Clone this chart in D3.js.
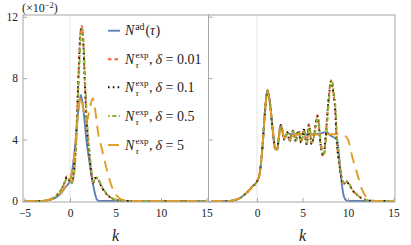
<!DOCTYPE html>
<html>
<head>
<meta charset="utf-8">
<script src="https://cdn.jsdelivr.net/npm/d3@7"></script>
<style>
  body { margin: 0; background: #fff; }
  svg { display: block; }
  svg text { font-family: "Liberation Serif", "DejaVu Serif", "Times New Roman", serif !important; }
</style>
</head>
<body>
<div id="chart"></div>
<script>
// ---- data (values in units of 10^-2) ----
var kTicksLeft = [-5, 0, 5, 10, 15],
    kTicksRight = [0, 5, 10, 15],
    yTicks = [0, 4, 8, 12];

var legendLabels = ["ad", "0.01", "0.1", "0.5", "5"];

// left panel
var leftAd = [[-5,0],[-3,0],[-2.5,0.03],[-2,0.1],[-1.5,0.25],[-1,0.5],[-0.5,0.9],[0,1.3],[0.3,2.2],[0.6,3.8],[0.9,5.8],[1.2,6.9],[1.5,5.8],[1.8,4.0],[2.1,2.7],[2.4,1.5],[2.7,0.6],[2.95,0.1],[3.2,0],[15,0]];
var leftExp001 = [[-5,0],[-3,0],[-2.5,0.05],[-2,0.15],[-1.5,0.35],[-1,0.7],[-0.6,1.2],[-0.35,1.6],[-0.1,1.35],[0.15,1.15],[0.45,2.0],[0.7,4.5],[0.95,8.5],[1.15,11.0],[1.3,11.4],[1.45,10.5],[1.65,7.5],[1.85,5.0],[2.1,3.2],[2.35,1.8],[2.55,1.2],[2.8,1.5],[3.05,1.45],[3.4,1.0],[3.8,0.6],[4.3,0.3],[4.8,0.12],[5.5,0.03],[6.5,0],[15,0]];
var leftExp01 = [[-5,0],[-3,0],[-2.5,0.05],[-2,0.15],[-1.5,0.35],[-1,0.7],[-0.6,1.2],[-0.35,1.55],[-0.1,1.35],[0.15,1.15],[0.45,2.0],[0.7,4.4],[0.95,8.4],[1.15,10.9],[1.3,11.3],[1.45,10.4],[1.65,7.4],[1.85,5.0],[2.1,3.2],[2.35,1.8],[2.55,1.2],[2.8,1.5],[3.05,1.45],[3.4,1.0],[3.8,0.6],[4.3,0.3],[4.8,0.12],[5.5,0.03],[6.5,0],[15,0]];
var leftExp05 = [[-5,0],[-3,0],[-2.5,0.05],[-2,0.15],[-1.5,0.35],[-1,0.7],[-0.6,1.15],[-0.3,1.5],[-0.05,1.35],[0.2,1.2],[0.5,2.0],[0.75,4.4],[1.0,8.3],[1.2,10.8],[1.35,11.2],[1.5,10.3],[1.7,7.4],[1.9,5.0],[2.15,3.2],[2.4,1.8],[2.6,1.25],[2.85,1.55],[3.1,1.45],[3.45,1.0],[3.85,0.6],[4.35,0.3],[4.85,0.12],[5.5,0.03],[6.5,0],[15,0]];
var leftExp5 = [[-5,0],[-3,0],[-2.5,0.05],[-2,0.12],[-1.5,0.3],[-1,0.55],[-0.5,0.95],[0,1.4],[0.3,2.2],[0.6,3.8],[0.9,5.8],[1.2,6.8],[1.55,5.7],[1.85,5.2],[2.2,6.1],[2.5,6.7],[2.75,6.0],[3.1,4.4],[3.5,3.4],[3.85,2.5],[4.2,1.7],[4.6,0.93],[5.0,0.45],[5.5,0.15],[6,0.03],[6.5,0],[15,0]];

// right panel
var rightAd = [[-5,0],[-3,0],[-2.5,0.05],[-2,0.15],[-1.5,0.35],[-1,0.62],[-0.5,0.95],[0,1.26],[0.3,1.8],[0.6,3.5],[0.9,6.0],[1.15,7.2],[1.4,6.5],[1.7,4.8],[2.0,3.4],[2.2,3.35],[2.6,4.95],[3.0,4.1],[3.4,4.4],[4.0,4.35],[5.0,4.35],[6.0,4.35],[7.0,4.4],[7.65,4.5],[8.0,4.3],[8.4,4.15],[8.8,4.0],[9.05,2.7],[9.3,1.2],[9.55,0.3],[9.8,0.05],[10.1,0],[15,0]];
var rightExp001 = [[-5,0],[-3,0],[-2.5,0.05],[-2,0.15],[-1.5,0.35],[-1,0.62],[-0.5,0.95],[0,1.26],[0.3,1.8],[0.6,3.5],[0.9,6.0],[1.15,7.2],[1.4,6.5],[1.7,4.8],[2.0,3.4],[2.2,3.35],[2.6,4.95],[3.0,4.0],[3.3,4.5],[3.6,3.9],[3.95,4.6],[4.25,3.9],[4.55,4.6],[4.85,3.8],[5.15,4.7],[5.45,3.7],[5.7,5.0],[6.0,3.7],[6.3,4.4],[6.65,5.6],[7.0,3.6],[7.3,2.9],[7.55,4.2],[7.85,6.6],[8.15,7.85],[8.4,7.0],[8.6,5.9],[8.75,4.0],[9.0,2.6],[9.25,1.6],[9.5,1.1],[9.8,1.25],[10.1,1.1],[10.5,0.7],[11.0,0.4],[11.5,0.18],[12.0,0.07],[12.5,0.02],[13,0],[15,0]];
var rightExp01 = [[-5,0],[-3,0],[-2.5,0.05],[-2,0.15],[-1.5,0.35],[-1,0.62],[-0.5,0.95],[0,1.26],[0.3,1.8],[0.6,3.5],[0.9,6.0],[1.15,7.2],[1.4,6.5],[1.7,4.8],[2.0,3.4],[2.2,3.35],[2.6,4.95],[3.0,4.0],[3.3,4.5],[3.6,3.9],[3.95,4.55],[4.25,3.9],[4.55,4.6],[4.85,3.8],[5.15,4.65],[5.45,3.7],[5.7,4.95],[6.0,3.7],[6.3,4.4],[6.65,5.5],[7.0,3.6],[7.3,2.95],[7.55,4.2],[7.85,6.5],[8.15,7.8],[8.4,7.0],[8.6,5.9],[8.75,4.0],[9.0,2.6],[9.25,1.6],[9.5,1.1],[9.8,1.25],[10.1,1.1],[10.5,0.7],[11.0,0.4],[11.5,0.18],[12.0,0.07],[12.5,0.02],[13,0],[15,0]];
var rightExp05 = [[-5,0],[-3,0],[-2.5,0.05],[-2,0.15],[-1.5,0.35],[-1,0.62],[-0.5,0.95],[0,1.26],[0.3,1.8],[0.6,3.5],[0.9,6.0],[1.15,7.2],[1.4,6.5],[1.7,4.8],[2.0,3.4],[2.2,3.35],[2.65,4.95],[3.05,4.1],[3.35,4.5],[3.65,3.95],[4.0,4.55],[4.3,3.95],[4.6,4.55],[4.9,3.9],[5.2,4.6],[5.5,3.8],[5.75,4.9],[6.05,3.8],[6.35,4.4],[6.7,5.4],[7.05,3.7],[7.35,3.0],[7.6,4.2],[7.9,6.5],[8.2,7.9],[8.45,7.1],[8.65,5.9],[8.8,4.1],[9.05,2.7],[9.3,1.7],[9.55,1.15],[9.85,1.3],[10.15,1.1],[10.55,0.7],[11.05,0.4],[11.55,0.18],[12.0,0.07],[12.5,0.02],[13,0],[15,0]];
var rightExp5 = [[-5,0],[-3,0],[-2.5,0.05],[-2,0.15],[-1.5,0.35],[-1,0.62],[-0.5,0.95],[0,1.26],[0.3,1.8],[0.6,3.5],[0.9,6.0],[1.15,7.2],[1.4,6.5],[1.7,4.8],[2.0,3.4],[2.2,3.35],[2.6,4.9],[3.0,4.1],[3.4,4.35],[4,4.3],[5,4.35],[6,4.3],[7,4.35],[8,4.35],[9,4.35],[9.5,4.3],[10,4.0],[10.5,2.8],[11,1.8],[11.5,0.8],[12,0.25],[12.5,0.05],[13,0],[15,0]];

// ---- styles ----
var styles = [
  {color: "#5E81B5", dash: null},
  {color: "#EB6235", dash: "3.5,3"},
  {color: "#111111", dash: "1.6,3.2"},
  {color: "#8FB032", dash: "1.6,2.6,4.2,2.6"},
  {color: "#E19C24", dash: "11,7"}
];

var W = 411, H = 245,
    frameTop = 15, frameBottom = 202;

var svg = d3.select("#chart").append("svg")
  .attr("width", W)
  .attr("height", H);

var yScale = d3.scaleLinear().domain([0, 12]).range([201, 16.7]);

var panels = [
  {x0: 23, x1: 208.5, xScale: d3.scaleLinear().domain([-5, 15]).range([24.5, 206.5]),
   ticks: kTicksLeft, curves: [leftAd, leftExp001, leftExp01, leftExp05, leftExp5], yLabels: true},
  {x0: 208.5, x1: 395, xScale: d3.scaleLinear().domain([-5, 15]).range([211.5, 393.5]),
   ticks: kTicksRight, curves: [rightAd, rightExp001, rightExp01, rightExp05, rightExp5], yLabels: false}
];

panels.forEach(function(p, pi) {
  var g = svg.append("g");

  // gridline at k = 0
  g.append("line")
    .attr("x1", p.xScale(0)).attr("x2", p.xScale(0))
    .attr("y1", frameTop).attr("y2", frameBottom)
    .attr("stroke", "#e4e4e4").attr("stroke-width", 1);

  svg.append("clipPath").attr("id", "clip" + pi)
    .append("rect")
    .attr("x", p.x0).attr("y", frameTop)
    .attr("width", p.x1 - p.x0).attr("height", frameBottom - frameTop);

  var line = d3.line()
    .x(function(d) { return p.xScale(d[0]); })
    .y(function(d) { return yScale(d[1]); })
    .curve(d3.curveMonotoneX);

  var plot = g.append("g").attr("clip-path", "url(#clip" + pi + ")");
  p.curves.forEach(function(c, i) {
    plot.append("path")
      .datum(c)
      .attr("d", line)
      .attr("fill", "none")
      .attr("stroke", styles[i].color)
      .attr("stroke-width", 1.9)
      .attr("stroke-dasharray", styles[i].dash);
  });

  // frame
  g.append("rect")
    .attr("x", p.x0).attr("y", frameTop)
    .attr("width", p.x1 - p.x0).attr("height", frameBottom - frameTop)
    .attr("fill", "none").attr("stroke", "#a6a6a6").attr("stroke-width", 1);

  // axes
  var xAxis = g.append("g")
    .attr("transform", "translate(0," + frameBottom + ")")
    .call(d3.axisBottom(p.xScale).tickValues(p.ticks).tickSize(-4).tickPadding(7)
      .tickFormat(function(d) { return d < 0 ? "\u2212" + Math.abs(d) : d; }));
  xAxis.select(".domain").remove();
  xAxis.selectAll("line").attr("stroke", "#a6a6a6");
  xAxis.selectAll("text").attr("font-size", 11.5).attr("fill", "#222");

  var yAxis = g.append("g")
    .attr("transform", "translate(" + p.x0 + ",0)")
    .call(d3.axisLeft(yScale).tickValues(yTicks).tickSize(-4).tickPadding(5)
      .tickFormat(function(d) { return p.yLabels ? d : ""; }));
  yAxis.select(".domain").remove();
  yAxis.selectAll("line").attr("stroke", "#a6a6a6");
  yAxis.selectAll("text").attr("font-size", 11.5).attr("fill", "#222");

  // k label
  svg.append("text")
    .attr("x", p.xScale(5)).attr("y", 241)
    .attr("text-anchor", "middle")
    .attr("font-size", 16).attr("font-style", "italic")
    .attr("fill", "#222")
    .text("k");
});

// (x10^-2)
var mult = svg.append("text").attr("x", 22).attr("y", 12).attr("font-size", 12).attr("fill", "#222");
mult.append("tspan").text("(\u00d710");
mult.append("tspan").attr("font-size", 8.5).attr("dy", -4.5).text("\u22122");
mult.append("tspan").attr("dy", 4.5).text(")");

// ---- legend ----
var legend = svg.append("g").attr("fill", "#222");
var rowY = [30.7, 59.3, 87.3, 116, 145];

function measure(txt, size, italic) {
  var t = legend.append("text")
    .attr("font-size", size)
    .attr("font-style", italic ? "italic" : "normal")
    .text(txt);
  var w = t.node().getComputedTextLength();
  t.remove();
  return w;
}

var wExp = measure("exp", 9, false),
    wTau = measure("\u03c4", 9, true);

legendLabels.forEach(function(lab, i) {
  var y = rowY[i];
  legend.append("line")
    .attr("x1", 108).attr("x2", 120)
    .attr("y1", y).attr("y2", y)
    .attr("stroke", styles[i].color)
    .attr("stroke-width", 1.9)
    .attr("stroke-dasharray", styles[i].dash);

  var t = legend.append("text")
    .attr("x", 125).attr("y", y + 4.5)
    .attr("font-size", 14);
  t.append("tspan").attr("font-style", "italic").text("N");
  if (i == 0) {
    t.append("tspan").attr("font-size", 10).attr("dx", 0.8).attr("dy", -5.5).text("ad");
    t.append("tspan").attr("dx", 0.8).attr("dy", 5.5).text("(");
    t.append("tspan").attr("font-style", "italic").text("\u03c4");
    t.append("tspan").attr("dx", 0.5).text(")");
  } else {
    t.append("tspan").attr("font-size", 9).attr("dx", 1.2).attr("dy", -6).text("exp");
    t.append("tspan").attr("font-size", 9).attr("font-style", "italic")
      .attr("dx", -wExp).attr("dy", 10.5).text("\u03c4");
    t.append("tspan").attr("dx", wExp - wTau + 0.5).attr("dy", -4.5).text(",");
    t.append("tspan").attr("dx", 3).attr("font-style", "italic").text("\u03b4");
    t.append("tspan").attr("dx", 3.5).text("=");
    t.append("tspan").attr("dx", 3.5).text(lab);
  }
});
</script>
</body>
</html>
